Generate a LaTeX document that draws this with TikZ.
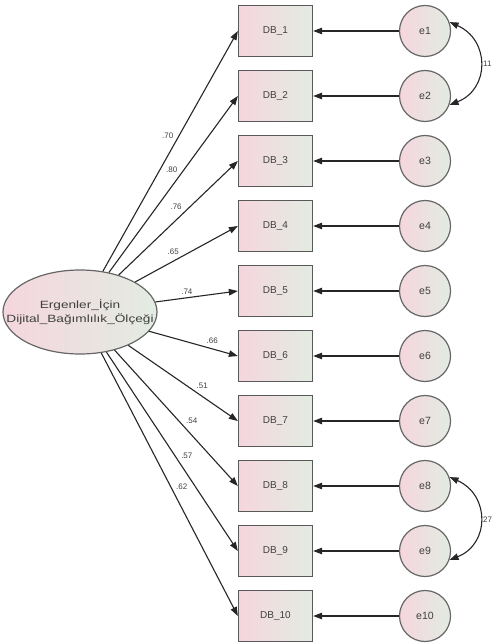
\documentclass[tikz,border=0pt]{standalone}
\usepackage{fontspec}
\setmainfont{Liberation Sans}
\usetikzlibrary{arrows.meta,shapes.geometric}
\definecolor{pinkA}{RGB}{245,214,222}
\definecolor{greenA}{RGB}{226,236,226}
\begin{document}
\begin{tikzpicture}[x=1pt,y=-1pt,
  obs/.style={draw=black!65, line width=1.3pt, minimum width=74pt, minimum height=51pt, inner sep=0pt,
    left color=pinkA, right color=greenA, font=\fontsize{10}{12}\selectfont, text=black!75},
  err/.style={circle, draw=black!60, line width=1.2pt, minimum size=51pt, inner sep=0pt,
    left color=pinkA, right color=greenA, font=\fontsize{10.5}{12}\selectfont, text=black!75},
  lat/.style={ellipse, draw=black!60, line width=1.2pt, minimum width=154pt, minimum height=84pt, inner sep=0pt,
    left color=pinkA, right color=greenA},
  lattext/.style={align=center, font=\fontsize{10.5}{14}\selectfont, text=black!75, inner sep=0pt},
  load/.style={draw=black!85, line width=1.1pt, -{Triangle[length=9pt,width=6.5pt]}},
  cov/.style={draw=black!85, line width=1.1pt, {Triangle[length=9pt,width=6.5pt]}-{Triangle[length=9pt,width=6.5pt]}},
  lbl/.style={font=\fontsize{8}{9}\selectfont, text=black!75, inner sep=2pt},
]
\useasboundingbox (0,0) rectangle (492,644);

\node[lat] (F) at (80,312) {};
\node[lattext] (Ftext) at (F.center) {\scalebox{1.3}[1]{Ergenler\_İçin}\\\scalebox{1.3}[1]{Dijital\_Bağımlılık\_Ölçeği}};

\foreach \i in {1,...,10}{
  \node[obs] (DB\i) at (275.5,{31+65*(\i-1)}) {DB\_\i};
  \node[err] (e\i) at (425,{31+65*(\i-1)}) {e\i};
  \draw[load] (e\i) -- (DB\i.east);
}

\draw[load] (F) -- node[lbl, auto, pos=0.54] {.70} (DB1.west);
\draw[load] (F) -- node[lbl, auto, pos=0.55] {.80} (DB2.west);
\draw[load] (F) -- node[lbl, auto, pos=0.55] {.76} (DB3.west);
\draw[load] (F) -- node[lbl, auto, pos=0.45] {.65} (DB4.west);
\draw[load] (F) -- node[lbl, auto, pos=0.48] {.74} (DB5.west);
\draw[load] (F) -- node[lbl, auto, pos=0.62] {.66} (DB6.west);
\draw[load] (F) -- node[lbl, auto, pos=0.6] {.51} (DB7.west);
\draw[load] (F) -- node[lbl, auto, pos=0.56] {.54} (DB8.west);
\draw[load] (F) -- node[lbl, auto, pos=0.55] {.57} (DB9.west);
\draw[load] (F) -- node[lbl, auto, pos=0.53] {.62} (DB10.west);

\draw[cov] (e1.20) .. controls (490,40) and (490,89) .. node[lbl, right, pos=0.5, inner sep=0.5pt] {.11} (e2.-20);
\draw[cov] (e8.20) .. controls (490,495) and (490,544) .. node[lbl, right, pos=0.5, inner sep=0.5pt] {.27} (e9.-20);
\end{tikzpicture}
\end{document}
